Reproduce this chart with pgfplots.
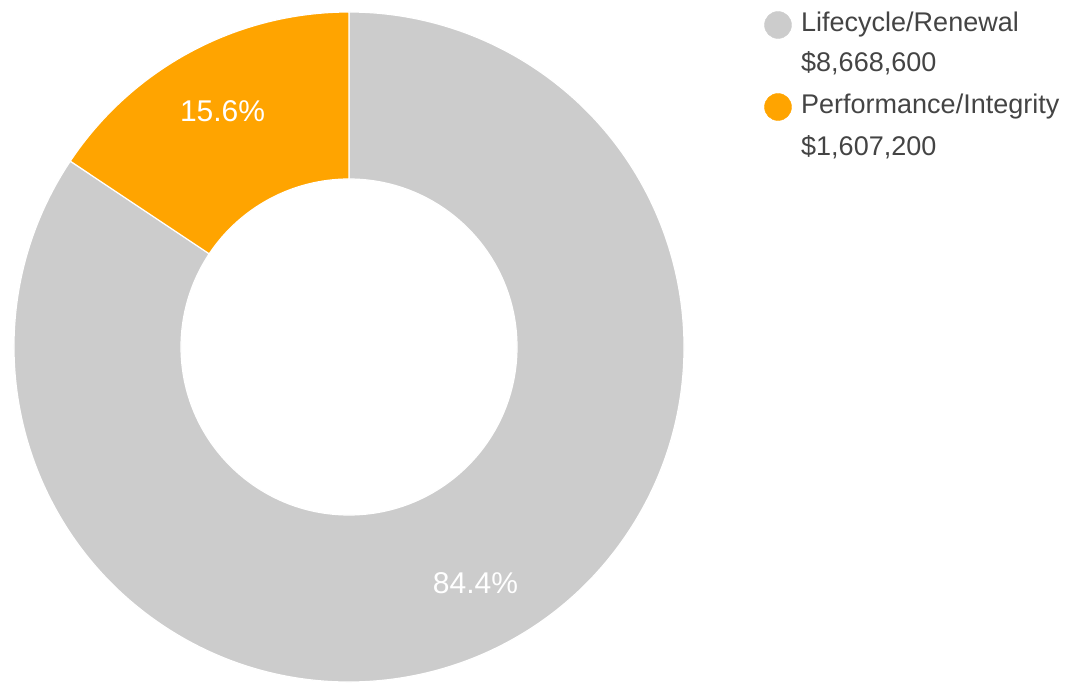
\documentclass[border=0pt]{standalone}
\usepackage{pgfplots}
\usepackage{pgfplotstable}
\pgfplotsset{compat=1.18}
\usepackage{fontspec}
\setmainfont{Liberation Sans}
\definecolor{sliceGray}{HTML}{CCCCCC}
\definecolor{sliceOrange}{HTML}{FFA400}
\definecolor{legText}{HTML}{444444}

\pgfplotstableread{
name value
Lifecycle/Renewal 8668600
Performance/Integrity 1607200
}\piedata
\pgfplotstablegetelem{0}{value}\of\piedata \edef\va{\pgfplotsretval}
\pgfplotstablegetelem{1}{value}\of\piedata \edef\vb{\pgfplotsretval}
\edef\angB{\fpeval{360*\vb/(\va+\vb)}}
\edef\pctA{\fpeval{round(100*\va/(\va+\vb),1)}}
\edef\pctB{\fpeval{round(100*\vb/(\va+\vb),1)}}
\edef\aOne{90}
\edef\aTwo{\fpeval{90+\angB}}
\edef\aThree{450}
\edef\midB{\fpeval{90+\angB/2}}
\edef\midA{\fpeval{(90+\angB+450)/2}}

\begin{document}
\begin{tikzpicture}
\begin{axis}[
  x=1pt, y=1pt,
  xmin=0, xmax=1078, ymin=0, ymax=688,
  scale only axis, hide axis, clip=false,
]
% donut
\def\C{axis cs:349,341}
\filldraw[fill=sliceGray, draw=white, line width=1.2pt]
  (\C) ++(\aTwo:335pt) arc[start angle=\aTwo, end angle=\aThree, radius=335pt]
  -- ([shift={(\aThree:168pt)}]\C) arc[start angle=\aThree, end angle=\aTwo, radius=168pt] -- cycle;
\filldraw[fill=sliceOrange, draw=white, line width=1.2pt]
  (\C) ++(\aOne:335pt) arc[start angle=\aOne, end angle=\aTwo, radius=335pt]
  -- ([shift={(\aTwo:168pt)}]\C) arc[start angle=\aTwo, end angle=\aOne, radius=168pt] -- cycle;
% percentage labels
\path (\C) ++(\midB:268pt) node[text=white, font=\fontsize{30}{36}\selectfont] {\pctB\%};
\path (\C) ++(\midA:268pt) node[text=white, font=\fontsize{30}{36}\selectfont] {\pctA\%};
% legend
\addplot[only marks, mark=*, mark size=13.5pt, color=sliceGray] coordinates {(778,663)};
\addplot[only marks, mark=*, mark size=13.5pt, color=sliceOrange] coordinates {(778,581)};
\node[anchor=west, text=legText, font=\fontsize{27}{32}\selectfont, inner sep=0pt] at (axis cs:801,663) {Lifecycle/Renewal};
\node[anchor=west, text=legText, font=\fontsize{27}{32}\selectfont, inner sep=0pt] at (axis cs:801,625) {\$8,668,600};
\node[anchor=west, text=legText, font=\fontsize{27}{32}\selectfont, inner sep=0pt] at (axis cs:801,581) {Performance/Integrity};
\node[anchor=west, text=legText, font=\fontsize{27}{32}\selectfont, inner sep=0pt] at (axis cs:801,541) {\$1,607,200};
\end{axis}
\pgfresetboundingbox
\path[use as bounding box] (current axis.south west) rectangle (current axis.north east);
\end{tikzpicture}
\end{document}
